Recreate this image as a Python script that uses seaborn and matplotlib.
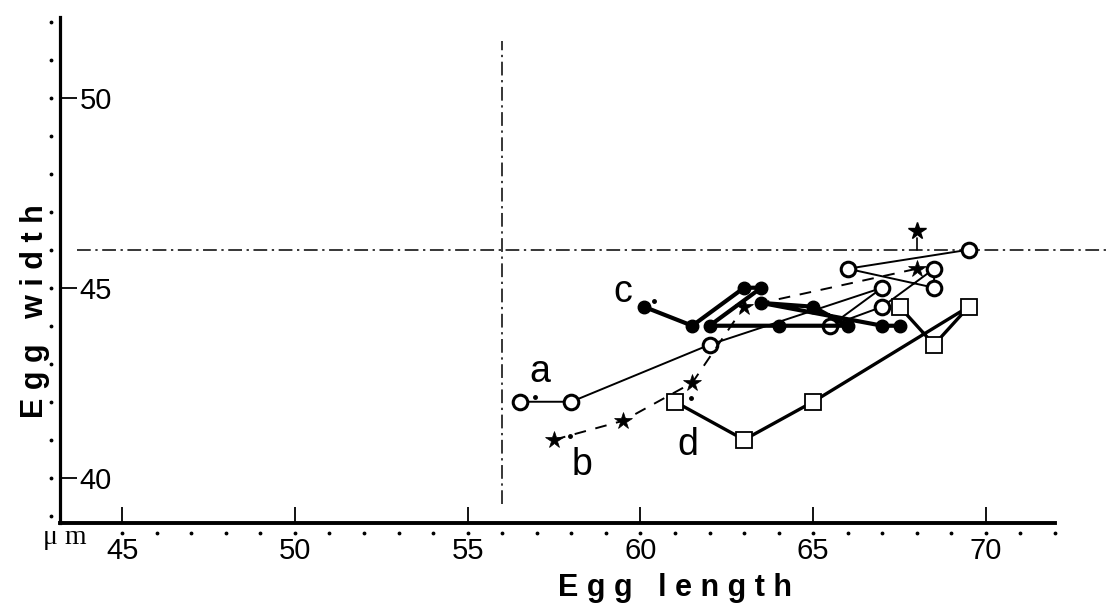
import matplotlib
matplotlib.use("Agg")
import matplotlib.pyplot as plt
import seaborn as sns

# egg length / egg width (um) for the four series
a_len = [56.5, 58, 62, 67, 65.5, 67, 68.5, 68.5, 66, 69.5]
a_wid = [42, 42, 43.5, 45, 44, 44.5, 45.5, 45, 45.5, 46]

b_len = [57.5, 59.5, 61.5, 63, 68]
b_wid = [41, 41.5, 42.5, 44.5, 45.5]
b_extra = (68, 46.5)   # lone star above the reference line

c_len = [60.1, 61.5, 63, 63.5, 62, 64, 66, 65, 63.5, 67, 67.5]
c_wid = [44.5, 44, 45, 45, 44, 44, 44, 44.5, 44.6, 44, 44]

d_len = [61, 63, 65, 69.5, 68.5, 67.5]
d_wid = [42, 41, 42, 44.5, 43.5, 44.5]

# small start dots and series letters
dot_len = [56.95, 57.95, 60.4, 61.45]
dot_wid = [42.13, 41.1, 44.65, 42.1]
letters = ["a", "b", "c", "d"]
letter_len = [57.1, 58.3, 59.5, 61.37]
letter_wid = [42.78, 40.33, 44.9, 40.86]

# reference lines
ref_len = 56
ref_wid = 46

xticks = [45, 50, 55, 60, 65, 70]
yticks = [40, 45, 50]

sns.set_style("ticks")
plt.rcParams['font.family'] = ['Liberation Sans', 'DejaVu Sans']
plt.rcParams['text.color'] = 'k'
plt.rcParams['axes.labelcolor'] = 'k'
plt.rcParams['xtick.color'] = 'k'
plt.rcParams['ytick.color'] = 'k'

fig = plt.figure(figsize=(11.11, 6.06), dpi=100)
ax = fig.add_axes([60/1111, 1-523/606, 1-60/1111, 523/606])

dd = (0, (9, 3, 1.5, 3))
ax.plot([ref_len, ref_len], [39.3, 51.5], color="k", lw=1.1, linestyle=dd)
ax.plot([43.7, 73.6], [ref_wid, ref_wid], color="k", lw=1.1, linestyle=dd)

# a : open circles, thin line
sns.lineplot(x=a_len, y=a_wid, sort=False, estimator=None, ax=ax, color="k",
             lw=1.4, marker="o", markersize=10.5, markerfacecolor="white",
             markeredgecolor="k", markeredgewidth=2.2, zorder=3)
# b : stars, dashed
sns.lineplot(x=b_len, y=b_wid, sort=False, estimator=None, ax=ax, color="k",
             lw=1.4, linestyle=(0, (6, 5)), marker="*", markersize=13,
             markerfacecolor="k", markeredgecolor="k", markeredgewidth=0.5, zorder=3)
ax.plot([b_extra[0], b_extra[0]], [ref_wid, b_extra[1] - 0.2], color="k", lw=1.2)
ax.plot([b_extra[0]], [b_extra[1]], marker="*", ms=13, color="k", zorder=4)
# c : filled circles, thick line
sns.lineplot(x=c_len, y=c_wid, sort=False, estimator=None, ax=ax, color="k",
             lw=3, marker="o", markersize=9, markerfacecolor="k",
             markeredgecolor="k", markeredgewidth=1, zorder=4)
# d : open squares
sns.lineplot(x=d_len, y=d_wid, sort=False, estimator=None, ax=ax, color="k",
             lw=2.4, marker="s", markersize=12, markerfacecolor="white",
             markeredgecolor="k", markeredgewidth=1.3, zorder=3)

ax.plot(dot_len, dot_wid, "k.", ms=5, zorder=5)
for t, x, y in zip(letters, letter_len, letter_wid):
    ax.text(x, y, t, fontsize=27, ha="center", va="center", color="k")

ax.set_xlim(43.2, 73.62)
ax.set_ylim(38.81, 52.57)
sns.despine(ax=ax)
ax.spines["left"].set_bounds(38.81, 52.12)
ax.spines["bottom"].set_bounds(43.2, 72)
ax.spines["left"].set_linewidth(2.3)
ax.spines["bottom"].set_linewidth(2.8)
ax.spines["left"].set_color("k")
ax.spines["bottom"].set_color("k")

ax.set_xticks(xticks)
ax.set_yticks(yticks)
ax.tick_params(axis="x", direction="in", length=11.5, width=1.3, pad=10,
               labelsize=21, color="k", labelcolor="k")
ax.tick_params(axis="y", direction="in", length=12, width=1.3, pad=-14,
               labelsize=21, color="k", labelcolor="k")
plt.setp(ax.get_yticklabels(), ha="left")

# dotted minor marks outside the axes
ax.plot(list(range(45, 73)), [38.55] * 28, "k.", ms=3.5, clip_on=False)
ax.plot([42.95] * 14, list(range(39, 53)), "k.", ms=3.5, clip_on=False)
ax.text(43.33, 38.44, "μ m", fontsize=20, family="Liberation Serif",
        ha="center", va="center", color="k")

ax.set_xlabel("E g g   l e n g t h", fontsize=22, fontweight="bold", color="k")
ax.xaxis.label.set_va("center")
ax.xaxis.set_label_coords(0.585, -0.124)
ax.set_ylabel("E g g   w i d t h", fontsize=22, fontweight="bold", color="k")
ax.yaxis.label.set_va("center")
ax.yaxis.set_label_coords(-0.024, 0.405)

fig.savefig("out.png", dpi=100)
